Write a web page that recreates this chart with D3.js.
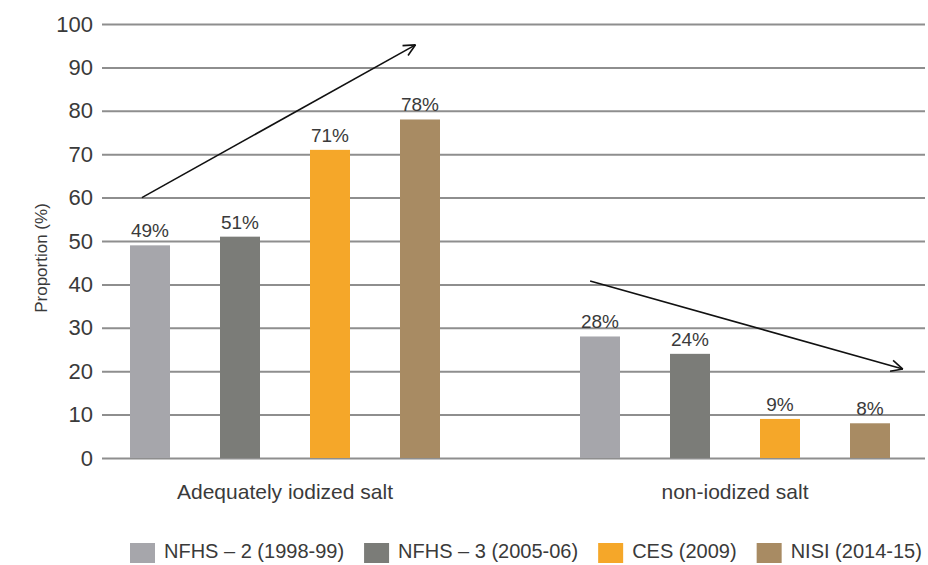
<!DOCTYPE html>
<html>
<head>
<meta charset="utf-8">
<script src="https://cdn.jsdelivr.net/npm/d3@7"></script>
<style>
  html, body { margin: 0; padding: 0; background: #ffffff; }
  svg { display: block; font-family: "Liberation Sans", Arial, Helvetica, sans-serif; }
</style>
</head>
<body>
<svg id="chart" width="928" height="565"></svg>
<script>
// Salt iodization survey results by category
const categories = ["Adequately iodized salt", "non-iodized salt"];
const seriesNames = ["NFHS – 2 (1998-99)", "NFHS – 3 (2005-06)", "CES (2009)", "NISI (2014-15)"];
const adequatelyIodized = [49, 51, 71, 78];
const nonIodized = [28, 24, 9, 8];
const seriesColors = ["#a6a6ab", "#7b7c78", "#f5a729", "#a88b63"];
const yTicks = [0, 10, 20, 30, 40, 50, 60, 70, 80, 90, 100];

// Trend arrows: position across the group (fraction) and value on the y scale
const trendArrows = [
  { group: "Adequately iodized salt", from: [0.182, 60], to: [0.79, 95.2] },
  { group: "non-iodized salt", from: [0.178, 40.8], to: [0.873, 20.5] }
];

const valuesByCategory = [adequatelyIodized, nonIodized];
const data = categories.map((c, i) => ({
  category: c,
  values: seriesNames.map((s, j) => ({ series: s, value: valuesByCategory[i][j] }))
}));

const svg = d3.select("#chart");
const textColor = "#3a3a3a";

const y = d3.scaleLinear().domain([0, 100]).range([458, 24]);
const x0 = d3.scaleBand().domain(categories).range([60, 960]).paddingInner(0).paddingOuter(0);
const x1 = d3.scaleBand().domain(seriesNames).range([70, 380]).paddingInner(50 / 90).paddingOuter(0);
const color = d3.scaleOrdinal().domain(seriesNames).range(seriesColors);

const gridLeft = 102, gridRight = 925;

// Horizontal gridlines with tick labels
const yAxis = d3.axisLeft(y)
  .tickValues(yTicks)
  .tickSize(-(gridRight - gridLeft))
  .tickPadding(9)
  .tickFormat(d3.format("d"));

const gAxis = svg.append("g")
  .attr("transform", `translate(${gridLeft},0)`)
  .call(yAxis);
gAxis.select(".domain").remove();
gAxis.selectAll(".tick line")
  .attr("stroke", "#8e8e8e")
  .attr("stroke-width", 2);
gAxis.selectAll(".tick text")
  .attr("fill", textColor)
  .attr("font-size", 22)
  .attr("x", -9);

// Y axis title
svg.append("text")
  .attr("transform", "translate(47,258) rotate(-90)")
  .attr("text-anchor", "middle")
  .attr("fill", textColor)
  .attr("font-size", 17)
  .text("Proportion (%)");

// Bars
const groups = svg.append("g")
  .selectAll("g")
  .data(data)
  .join("g")
  .attr("transform", d => `translate(${x0(d.category)},0)`);

groups.selectAll("rect")
  .data(d => d.values)
  .join("rect")
  .attr("x", d => x1(d.series))
  .attr("width", x1.bandwidth())
  .attr("y", d => y(d.value))
  .attr("height", d => y(0) - y(d.value))
  .attr("fill", d => color(d.series));

// Value labels above bars
groups.selectAll("text.value")
  .data(d => d.values)
  .join("text")
  .attr("class", "value")
  .attr("x", d => x1(d.series) + x1.bandwidth() / 2)
  .attr("y", d => y(d.value) - 8)
  .attr("text-anchor", "middle")
  .attr("fill", textColor)
  .attr("font-size", 19)
  .text(d => d.value + "%");

// Category labels
svg.append("g")
  .selectAll("text")
  .data(categories)
  .join("text")
  .attr("x", d => x0(d) + x0.bandwidth() / 2)
  .attr("y", 499)
  .attr("text-anchor", "middle")
  .attr("fill", textColor)
  .attr("font-size", 21)
  .text(d => d);

// Trend arrows with open heads
const arrowLayer = svg.append("g").attr("stroke", "#111").attr("stroke-width", 1.6).attr("fill", "none");
trendArrows.forEach(a => {
  const bx = x0(a.group), bw = x0.bandwidth();
  const xa = bx + a.from[0] * bw, ya = y(a.from[1]);
  const xb = bx + a.to[0] * bw, yb = y(a.to[1]);
  arrowLayer.append("line").attr("x1", xa).attr("y1", ya).attr("x2", xb).attr("y2", yb);
  const ang = Math.atan2(yb - ya, xb - xa);
  const len = 13, spread = Math.PI / 7;
  [ang + Math.PI - spread, ang + Math.PI + spread].forEach(t => {
    arrowLayer.append("line")
      .attr("x1", xb).attr("y1", yb)
      .attr("x2", xb + len * Math.cos(t)).attr("y2", yb + len * Math.sin(t));
  });
});

// Legend
const legend = svg.append("g");
let lx = 130;
seriesNames.forEach(s => {
  legend.append("rect")
    .attr("x", lx).attr("y", 543)
    .attr("width", 25).attr("height", 20)
    .attr("fill", color(s));
  const t = legend.append("text")
    .attr("x", lx + 34).attr("y", 558)
    .attr("fill", textColor)
    .attr("font-size", 20)
    .text(s);
  lx += 34 + t.node().getComputedTextLength() + 20;
});
</script>
</body>
</html>
